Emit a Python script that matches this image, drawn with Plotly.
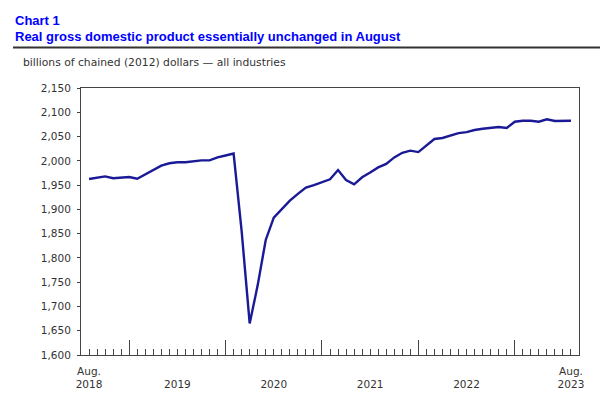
import plotly.graph_objects as go
import pandas as pd

# ---- data ----
months = [p.strftime("%Y-%m") for p in pd.period_range("2018-08", "2023-08", freq="M")]
gdp = [1962.5, 1964.5, 1968, 1964, 1965, 1966.5, 1963, 1972, 1982, 1990,
       1995, 1997, 1997, 1999, 2001, 2001, 2007, 2011, 2015,
       1855, 1665, 1744, 1837, 1883, 1900, 1918, 1932, 1945, 1950, 1956, 1962,
       1981, 1960.5, 1951.5, 1966, 1976, 1986.5, 1993.5, 2007, 2016.5, 2021,
       2018, 2032.5, 2045, 2047, 2052.5, 2057, 2059, 2063.5, 2066, 2067,
       2069.5, 2067.5, 2080.5, 2082.5, 2082.5, 2080.5, 2085.5, 2082, 2082, 2082.5]
y_ticks = list(range(1600, 2151, 50))
year_labels = ["Aug.<br>2018", " <br>2019", " <br>2020", " <br>2021", " <br>2022", "Aug.<br>2023"]

title1 = "Chart 1"
title2 = "Real gross domestic product essentially unchanged in August"
subtitle = "billions of chained (2012) dollars \u2014 all industries"

# ---- positions derived from categories ----
idx = list(range(len(months)))
jan_idx = [i for i, m in enumerate(months) if m.endswith("-01")]
label_pos = [0] + [(jan_idx[k] + jan_idx[k + 1]) / 2 for k in range(len(jan_idx) - 1)] + [idx[-1]]

W, H = 600, 399
L, R, T, B = 81, 21, 88, 44
pw, ph = W - L - R, H - T - B
def px_x(x): return (x - L) / pw
def px_y(y): return (H - B - y) / ph

line_color = "#444444"
tick_font = dict(family="DejaVu Sans, Verdana, sans-serif", size=10.5, color="#333333")

fig = go.Figure()
fig.add_trace(go.Scatter(x=idx, y=gdp, mode="lines",
                         line=dict(color="#1a1a96", width=2.4),
                         showlegend=False, hoverinfo="skip"))
fig.add_trace(go.Scatter(x=idx, y=gdp, mode="lines", xaxis="x2",
                         line=dict(color="rgba(0,0,0,0)", width=0),
                         showlegend=False, hoverinfo="skip"))

fig.update_layout(
    width=W, height=H,
    margin=dict(l=L, r=R, t=T, b=B, autoexpand=False),
    paper_bgcolor="white", plot_bgcolor="white",
    xaxis=dict(range=[-1, len(months)], showgrid=False, zeroline=False,
               showline=True, linecolor=line_color, linewidth=1, mirror=True,
               tickmode="array", tickvals=jan_idx, ticktext=[""] * len(jan_idx),
               ticks="inside", ticklen=15, tickwidth=1, tickcolor=line_color,
               minor=dict(tick0=0, dtick=1, ticks="inside", ticklen=6,
                          tickwidth=1, tickcolor=line_color, showgrid=False)),
    xaxis2=dict(overlaying="x", matches="x", anchor="y", side="bottom",
                showgrid=False, zeroline=False, showline=False,
                tickmode="array", tickvals=label_pos, ticktext=year_labels,
                ticks="", tickfont=tick_font, ticklabelstandoff=8),
    yaxis=dict(range=[1600, 2150], tickmode="array", tickvals=y_ticks,
               tickformat=",", showgrid=False, zeroline=False,
               showline=True, linecolor=line_color, linewidth=1, mirror=True,
               ticks="outside", ticklen=3, tickcolor=line_color,
               tickfont=tick_font, ticklabelstandoff=4),
    annotations=[
        dict(text="<b>" + title1 + "</b>", xref="paper", yref="paper",
             x=px_x(13), y=px_y(20), xanchor="left", yanchor="middle",
             showarrow=False,
             font=dict(family="Liberation Sans, Arial, sans-serif", size=13, color="#0000ff")),
        dict(text="<b>" + title2 + "</b>", xref="paper", yref="paper",
             x=px_x(13), y=px_y(36.5), xanchor="left", yanchor="middle",
             showarrow=False,
             font=dict(family="Liberation Sans, Arial, sans-serif", size=13, color="#0000ff")),
        dict(text=subtitle, xref="paper", yref="paper",
             x=px_x(21), y=px_y(62), xanchor="left", yanchor="middle",
             showarrow=False,
             font=dict(family="DejaVu Sans, Verdana, sans-serif", size=10.75, color="#333333")),
    ],
    shapes=[dict(type="line", xref="paper", yref="paper",
                 x0=px_x(13), x1=px_x(600), y0=px_y(47.5), y1=px_y(47.5),
                 line=dict(color="#333333", width=2))],
)

fig.write_html("out.html", config={"displayModeBar": False},
               post_script="document.body.style.margin='0';document.body.style.overflow='hidden';")
